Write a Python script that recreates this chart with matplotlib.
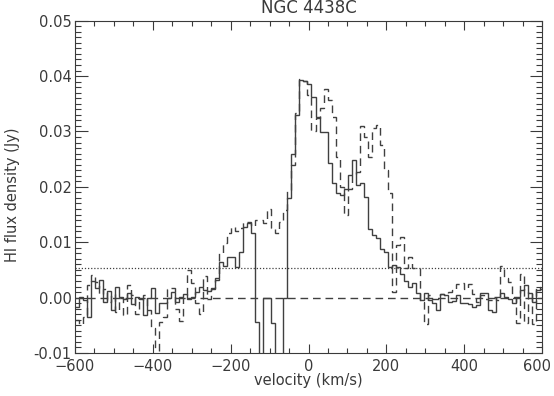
import numpy as np
import matplotlib
matplotlib.use("Agg")
import matplotlib.pyplot as plt
from matplotlib.ticker import MultipleLocator, FixedLocator
from matplotlib.transforms import ScaledTranslation

# channel grid (km/s)
v_start = -600.0
chan_width = 10.3

# solid spectrum (Jy)
flux_solid = [
    -0.0017, 0.0002, -0.0005, -0.0035, 0.0030, 0.0018, 0.0031, -0.0008, 0.0012, -0.0022,
    0.0020, 0.0002, -0.0003, 0.0008, -0.0012, 0.0002, -0.0003, -0.0032, 0.0000, 0.0018,
    -0.0027, -0.0009, -0.0009, 0.0000, 0.0010, -0.0008, 0.0001, 0.0006, -0.0003, 0.0001,
    0.0010, 0.0020, 0.0013, 0.0012, 0.0015, 0.0036, 0.0065, 0.0057, 0.0074, 0.0074,
    0.0056, 0.0083, 0.0128, 0.0134, 0.0116, -0.0044, -0.0200, 0.0000, 0.0000, -0.0046,
    -0.0200, -0.0200, 0.0000, 0.0180, 0.0260, 0.0330, 0.0393, 0.0392, 0.0385, 0.0362,
    0.0327, 0.0299, 0.0299, 0.0243, 0.0207, 0.0189, 0.0185, 0.0197, 0.0221, 0.0248,
    0.0203, 0.0207, 0.0182, 0.0123, 0.0113, 0.0107, 0.0087, 0.0083, 0.0055, 0.0059,
    0.0055, 0.0042, 0.0030, 0.0020, 0.0026, 0.0009, -0.0005, 0.0009, -0.0005, -0.0010,
    -0.0023, 0.0006, 0.0004, -0.0008, -0.0006, 0.0005, -0.0009, -0.0009, -0.0011, -0.0017,
    -0.0014, 0.0008, 0.0009, -0.0023, -0.0026, 0.0002, 0.0008, 0.0002, -0.0002, -0.0009,
    0.0002, 0.0014, 0.0023, 0.0009, -0.0008, 0.0014, 0.0015,
]

# dashed spectrum (Jy)
flux_dashed = [
    -0.0040, -0.0048, -0.0035, 0.0022, 0.0040, 0.0028, 0.0007, 0.0016, -0.0008, 0.0007,
    -0.0026, 0.0000, -0.0032, 0.0022, 0.0004, -0.0029, -0.0005, 0.0004, -0.0023, -0.0055,
    -0.0105, -0.0044, -0.0035, 0.0015, 0.0017, -0.0020, -0.0042, 0.0000, 0.0050, 0.0026,
    -0.0010, -0.0029, 0.0039, -0.0002, 0.0017, 0.0032, 0.0080, 0.0098, 0.0116, 0.0128,
    0.0120, 0.0125, 0.0137, 0.0137, 0.0130, 0.0140, 0.0140, 0.0135, 0.0160, 0.0125,
    0.0116, 0.0137, 0.0158, 0.0195, 0.0240, 0.0333, 0.0395, 0.0392, 0.0365, 0.0300,
    0.0325, 0.0342, 0.0376, 0.0357, 0.0327, 0.0254, 0.0200, 0.0149, 0.0197, 0.0222,
    0.0227, 0.0309, 0.0290, 0.0254, 0.0306, 0.0312, 0.0276, 0.0230, 0.0189, 0.0010,
    0.0095, 0.0109, 0.0053, 0.0073, 0.0054, 0.0053, -0.0008, -0.0048, 0.0005, -0.0003,
    -0.0002, 0.0007, 0.0004, 0.0010, 0.0014, 0.0025, 0.0027, 0.0016, 0.0024, 0.0007,
    -0.0008, 0.0004, -0.0002, -0.0005, 0.0001, -0.0005, 0.0057, 0.0035, 0.0028, 0.0001,
    -0.0045, 0.0042, -0.0046, 0.0010, -0.0048, 0.0020, 0.0015,
]

rms_level = 0.0053
x_ticks = [-600, -400, -200, 0, 200, 400, 600]
title = "NGC 4438C"
xlabel = "velocity (km/s)"
ylabel = "HI flux density (Jy)"

edges_s = v_start + chan_width * np.arange(len(flux_solid) + 1)
edges_d = v_start + chan_width * np.arange(len(flux_dashed) + 1)

tc = "#3a3a3a"
lc = "#404040"
plt.rcParams['font.family'] = ['DejaVu Sans']

fig = plt.figure(figsize=(5.54, 3.96), dpi=100)
ax = fig.add_axes([75/554, 1 - 353/396, (542-75)/554, (353-20.7)/396])

ax.stairs(flux_solid, edges_s, baseline=None, color=lc, lw=1.0)
ax.stairs(flux_dashed, edges_d, baseline=None, color=lc, lw=1.0, linestyle=(0, (5.5, 3.5)))
ax.axhline(0.0, color=lc, lw=1.0, linestyle=(0, (5.5, 3.5)))
ax.axhline(rms_level, color=lc, lw=0.9, linestyle=(0, (1, 1.5)))

ax.set_xlim(-600, 600)
ax.set_ylim(-0.01, 0.05)
ax.xaxis.set_major_locator(FixedLocator(x_ticks))
ax.xaxis.set_minor_locator(MultipleLocator(50))
ax.yaxis.set_major_locator(MultipleLocator(0.01))
ax.yaxis.set_minor_locator(MultipleLocator(0.001))
ax.yaxis.set_major_formatter(matplotlib.ticker.FormatStrFormatter('%.2f'))

ax.tick_params(axis='both', which='both', direction='in', top=True, right=True,
               colors=tc, labelcolor=tc, labelsize=10.5, width=0.8)
ax.tick_params(axis='x', which='major', length=6.5, pad=4.2)
ax.tick_params(axis='x', which='minor', length=3.5)
ax.tick_params(axis='y', which='major', length=9, pad=2.5)
ax.tick_params(axis='y', which='minor', length=4.5)
for s in ax.spines.values():
    s.set_color(tc)
    s.set_linewidth(0.8)

ax.set_title(title, fontsize=12, color=tc, pad=5.5)
ax.set_xlabel(xlabel, fontsize=10.5, color=tc, labelpad=-0.5)
ax.set_ylabel(ylabel, fontsize=10.5, color=tc)
ax.yaxis.set_label_coords(-0.118, 0.4755)

# nudge the last x tick label left so it stays inside the figure
fig.canvas.draw()
last = ax.xaxis.get_major_ticks()[-1].label1
last.set_transform(last.get_transform() + ScaledTranslation(-0.05, 0, fig.dpi_scale_trans))

fig.savefig("out.png", dpi=100)
